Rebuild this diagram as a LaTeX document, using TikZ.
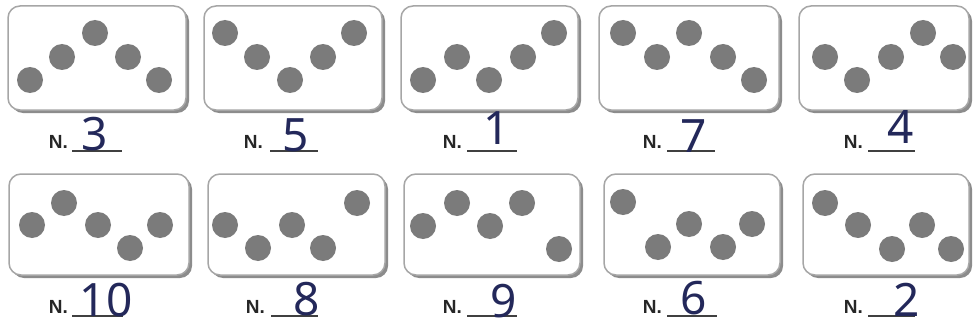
\documentclass[tikz,border=0pt]{standalone}
\usepackage{fontspec}
\newfontfamily\labfont{Liberation Sans}
\newfontfamily\handfont{Noto Sans}
\definecolor{dotgray}{HTML}{7B7B7B}
\definecolor{cardline}{HTML}{A6A6A6}
\definecolor{cardshade}{HTML}{8C8C8C}
\definecolor{ink}{HTML}{23285A}
\tikzset{
  cardbox/.style={draw=cardline, line width=1.5pt, fill=white, rounded corners=12pt},
  cardshadow/.style={fill=cardshade, rounded corners=12pt},
  dot/.style={circle, fill=dotgray, minimum size=26pt, inner sep=0pt},
  nlab/.style={font=\labfont\bfseries\fontsize{19}{19}\selectfont, text=black!85, inner sep=0pt, anchor=base east},
  digit/.style={font=\handfont\fontsize{46}{46}\selectfont, text=ink, inner sep=0pt},
  uline/.style={draw=black!75, line width=1.1pt}
}
\newcommand{\mycard}[5]{%
  \fill[cardshadow] (#2+3,#3+3) rectangle (#4+3,#5+3);
  \path[cardbox] (#2,#3) rectangle (#4,#5);
  \coordinate (#1) at ({(#2+#4)/2},{(#3+#5)/2});
}
\begin{document}
\begin{tikzpicture}[x=1pt,y=-1pt]
\useasboundingbox[fill=white] (0,0) rectangle (974,329);
% row 1 cards
\mycard{k1}{8}{6}{186}{110}
\mycard{k2}{204}{6}{382}{110}
\mycard{k3}{401}{6}{578}{110}
\mycard{k4}{599}{6}{779}{110}
\mycard{k5}{799}{6}{969}{110}
% row 2 cards
\mycard{k6}{9}{174}{189}{275}
\mycard{k7}{208}{174}{385}{275}
\mycard{k8}{404}{174}{580}{275}
\mycard{k9}{604}{174}{780}{275}
\mycard{k10}{803}{174}{969}{275}
% dots
\foreach \name/\pts in {
  k1/{30/80,62/57,95/33,128/57,159/80},
  k2/{225/33,257/57,290/80,323/57,354/33},
  k3/{423/80,457/57,489/80,523/57,554/33},
  k4/{623/33,657/57,689/33,723/57,754/80},
  k5/{825/57,857/80,891/57,923/33,953/57},
  k6/{32/225,64/203,98/225,130/248,160/225},
  k7/{225/225,258/248,292/225,323/248,357/203},
  k8/{423/226,457/203,490/226,522/203,559/249},
  k9/{623/202,658/247,689/224,723/247,752/224},
  k10/{825/203,858/225,892/249,922/225,951/249}}{
  \foreach \px/\py [count=\i] in \pts {
    \node[dot] (\name d\i) at (\px,\py) {};
  }
}
% labels, underlines, digits
\foreach \name/\nx/\ny/\ua/\ub/\uy/\dx/\dy/\dg in {
  k1/68/148/72/122/151/95/134/3,
  k2/263/148/270/318/151/296/135/5,
  k3/462/148/467/517/151/497/128/1,
  k4/662/148/667/715/151/694/136/7,
  k5/863/148/868/915/151/901/127/4,
  k6/68/313/72/123/316/106/300/10,
  k7/265/313/271/318/316/307/299/8,
  k8/462/313/467/517/316/504/301/9,
  k9/662/313/667/717/316/694/298/6,
  k10/863/313/868/915/316/907/300/2}{
  \node[nlab] (\name n) at (\nx,\ny) {N.};
  \coordinate (\name ua) at (\ua,\uy);
  \coordinate (\name ub) at (\ub,\uy);
  \draw[uline] (\name ua) -- (\name ub);
  \node[digit] (\name g) at (\dx,\dy) {\dg};
}
\end{tikzpicture}
\end{document}
